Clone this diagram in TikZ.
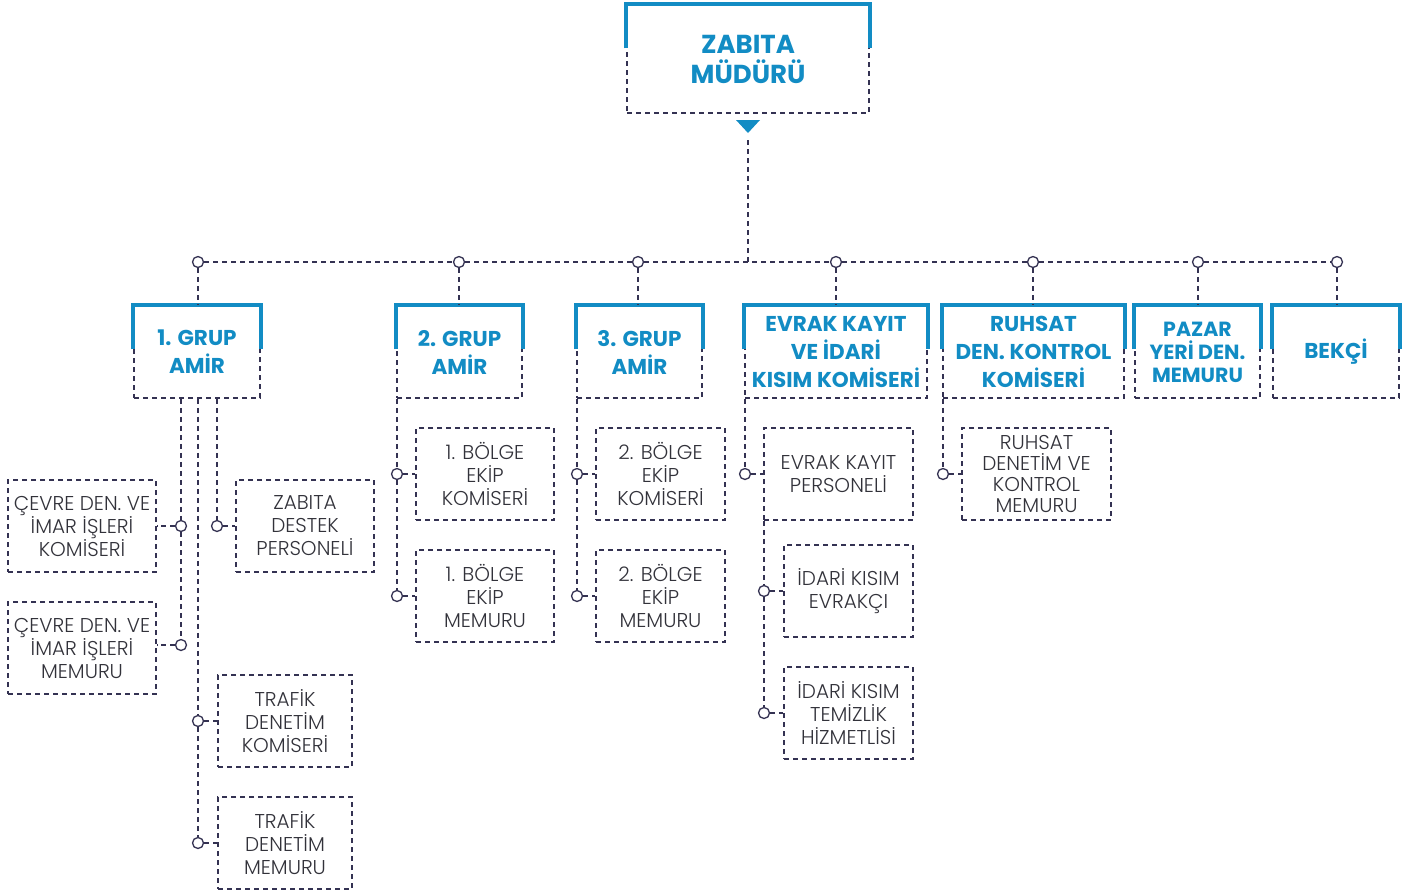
\documentclass[tikz,border=0pt]{standalone}
\usepackage{fontspec}
\setmainfont{Poppins}
\newfontfamily\lightfont{Poppins Light}
\usetikzlibrary{calc}

\newcommand\bluetop[1]{%
  \draw[bracketline] ($(#1.north west)+(0,44)$) -- (#1.north west) -- (#1.north east) -- ($(#1.north east)+(0,44)$);}

\begin{document}
\begin{tikzpicture}[x=1pt,y=-1pt,
  dline/.style={draw=navy,line width=1.5pt,dash pattern=on 5pt off 4pt},
  knot/.style={circle,draw=navy,fill=white,line width=1.3pt,inner sep=0pt,minimum size=11pt},
  subbox/.style={dline,inner sep=0pt,minimum height=92pt,align=center,text=textgray,
    font=\lightfont\fontsize{20}{23}\selectfont},
  headbox/.style={dline,inner sep=0pt,minimum height=92pt,align=center,text=zblue,
    font=\bfseries\fontsize{21.5}{28}\selectfont},
  bracketline/.style={draw=zblue,line width=4pt,line join=miter}]
  \definecolor{zblue}{RGB}{18,140,196}
  \definecolor{navy}{RGB}{52,50,82}
  \definecolor{textgray}{RGB}{50,50,58}
  \useasboundingbox (0,0) rectangle (1414,892);

  % top box
  \node[headbox,minimum width=242pt,minimum height=108pt,font=\bfseries\fontsize{26}{30}\selectfont]
    (mudur) at (748,59) {ZABITA\\MÜDÜRÜ};
  \bluetop{mudur}
  \fill[zblue] (736,120) -- (760,120) -- (748,133) -- cycle;
  \coordinate (tip) at (748,140);
  \coordinate (bus) at (748,262);
  \draw[dline] (tip) -- (bus);

  % header boxes
  \node[headbox,minimum width=126pt] (g1) at (197,352) {1. GRUP\\AMİR};
  \node[headbox,minimum width=125pt] (g2) at (459.5,352) {2. GRUP\\AMİR};
  \node[headbox,minimum width=125pt] (g3) at (639.5,352) {3. GRUP\\AMİR};
  \node[headbox,minimum width=182pt] (g4) at (836,352) {EVRAK KAYIT\\VE İDARİ\\KISIM KOMİSERİ};
  \node[headbox,minimum width=181pt] (g5) at (1033.5,352) {RUHSAT\\DEN. KONTROL\\KOMİSERİ};
  \node[headbox,minimum width=125pt,font=\bfseries\fontsize{20.5}{23}\selectfont]
    (g6) at (1197.5,352) {PAZAR\\YERİ DEN.\\MEMURU};
  \node[headbox,minimum width=126pt] (g7) at (1336,352) {BEKÇİ};
  \foreach \g in {g1,g2,g3,g4,g5,g6,g7} { \bluetop{\g} }

  % bus with knots
  \node[knot] (c1) at (198,262) {};
  \node[knot] (c2) at (459,262) {};
  \node[knot] (c3) at (638,262) {};
  \node[knot] (c4) at (836,262) {};
  \node[knot] (c5) at (1033,262) {};
  \node[knot] (c6) at (1198,262) {};
  \node[knot] (c7) at (1337,262) {};
  \draw[dline] (c1) -- (c2) -- (c3) -- (c4) -- (c5) -- (c6) -- (c7);
  \foreach \i in {1,...,7} { \draw[dline] (c\i) -- (c\i |- g\i.north); }

  % 1. grup
  \node[subbox,minimum width=148pt] (cevk) at (82,526) {ÇEVRE DEN. VE\\İMAR İŞLERİ\\KOMİSERİ};
  \node[subbox,minimum width=148pt] (cevm) at (82,648) {ÇEVRE DEN. VE\\İMAR İŞLERİ\\MEMURU};
  \node[subbox,minimum width=138pt] (destek) at (305,526) {ZABITA\\DESTEK\\PERSONELİ};
  \node[subbox,minimum width=134pt] (traf1) at (285,721) {TRAFİK\\DENETİM\\KOMİSERİ};
  \node[subbox,minimum width=134pt] (traf2) at (285,843) {TRAFİK\\DENETİM\\MEMURU};
  \node[knot] (k11) at (181,526) {};
  \node[knot] (k12) at (181,645) {};
  \node[knot] (k13) at (217,526) {};
  \node[knot] (k14) at (198,721) {};
  \node[knot] (k15) at (198,843) {};
  \draw[dline] (k11 |- g1.south) -- (k11) -- (k12);
  \draw[dline] (k13 |- g1.south) -- (k13);
  \draw[dline] (k14 |- g1.south) -- (k14) -- (k15);
  \draw[dline] (k11) -- (k11 -| cevk.east);
  \draw[dline] (k12) -- (k12 -| cevm.east);
  \draw[dline] (k13) -- (k13 -| destek.west);
  \draw[dline] (k14) -- (traf1.west);
  \draw[dline] (k15) -- (traf2.west);

  % 2. grup
  \node[subbox,minimum width=138pt] (b21) at (485,474) {1. BÖLGE\\EKİP\\KOMİSERİ};
  \node[subbox,minimum width=138pt] (b22) at (485,596) {1. BÖLGE\\EKİP\\MEMURU};
  \node[knot] (k21) at (397,474) {};
  \node[knot] (k22) at (397,596) {};
  \draw[dline] (k21 |- g2.south) -- (k21) -- (k22);
  \draw[dline] (k21) -- (b21.west);
  \draw[dline] (k22) -- (b22.west);

  % 3. grup
  \node[subbox,minimum width=129pt] (b31) at (660.5,474) {2. BÖLGE\\EKİP\\KOMİSERİ};
  \node[subbox,minimum width=129pt] (b32) at (660.5,596) {2. BÖLGE\\EKİP\\MEMURU};
  \node[knot] (k31) at (577,474) {};
  \node[knot] (k32) at (577,596) {};
  \draw[dline] (k31 |- g3.south) -- (k31) -- (k32);
  \draw[dline] (k31) -- (b31.west);
  \draw[dline] (k32) -- (b32.west);

  % evrak kayit
  \node[subbox,minimum width=149pt] (e1) at (838.5,474) {EVRAK KAYIT\\PERSONELİ};
  \node[subbox,minimum width=129pt] (e2) at (848.5,591) {İDARİ KISIM\\EVRAKÇI};
  \node[subbox,minimum width=129pt] (e3) at (848.5,713) {İDARİ KISIM\\TEMİZLİK\\HİZMETLİSİ};
  \node[knot] (ke1) at (745,474) {};
  \node[knot] (ke2) at (764,591) {};
  \node[knot] (ke3) at (764,713) {};
  \draw[dline] (ke1 |- g4.south) -- (ke1);
  \draw[dline] (ke1) -- (e1.west);
  \draw[dline] (ke2 |- e1.south) -- (ke2) -- (ke3);
  \draw[dline] (ke2) -- (e2.west);
  \draw[dline] (ke3) -- (e3.west);

  % ruhsat
  \node[subbox,minimum width=149pt,font=\lightfont\fontsize{20}{21}\selectfont]
    (r1) at (1036.5,474) {RUHSAT\\DENETİM VE\\KONTROL\\MEMURU};
  \node[knot] (kr1) at (943,474) {};
  \draw[dline] (kr1 |- g5.south) -- (kr1);
  \draw[dline] (kr1) -- (r1.west);
\end{tikzpicture}
\end{document}
